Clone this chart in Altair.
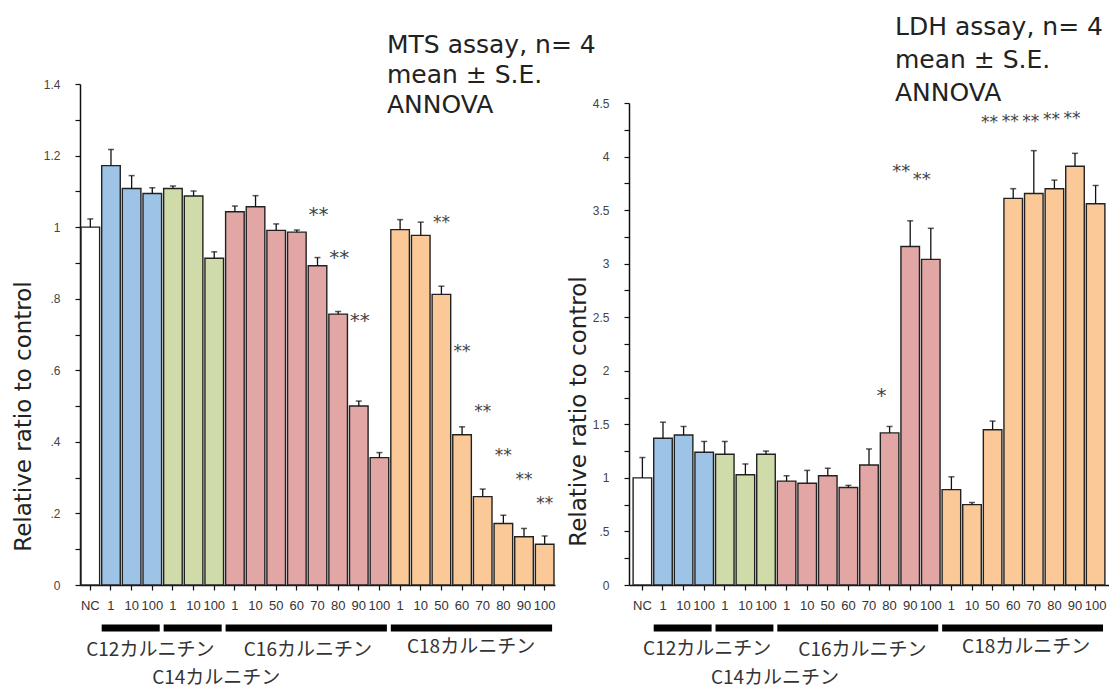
import altair as alt
import pandas as pd

# ---------------- data ----------------
categories = ["NC", "C12-1", "C12-10", "C12-100", "C14-1", "C14-10", "C14-100",
              "C16-1", "C16-10", "C16-50", "C16-60", "C16-70", "C16-80", "C16-90", "C16-100",
              "C18-1", "C18-10", "C18-50", "C18-60", "C18-70", "C18-80", "C18-90", "C18-100"]
groups = ["NC"] + ["C12"] * 3 + ["C14"] * 3 + ["C16"] * 8 + ["C18"] * 8
tick_labels = ["NC", "1", "10", "100", "1", "10", "100",
               "1", "10", "50", "60", "70", "80", "90", "100",
               "1", "10", "50", "60", "70", "80", "90", "100"]

mts_mean = [1.000, 1.172, 1.108, 1.094, 1.108, 1.087, 0.913,
            1.043, 1.057, 0.991, 0.986, 0.892, 0.757, 0.500, 0.356,
            0.993, 0.977, 0.812, 0.420, 0.247, 0.172, 0.135, 0.114]
mts_se = [0.023, 0.045, 0.036, 0.016, 0.007, 0.014, 0.018,
          0.016, 0.031, 0.018, 0.006, 0.023, 0.007, 0.014, 0.014,
          0.028, 0.037, 0.023, 0.022, 0.021, 0.023, 0.023, 0.023]

ldh_mean = [1.00, 1.37, 1.40, 1.24, 1.22, 1.03, 1.22,
            0.97, 0.95, 1.02, 0.91, 1.12, 1.42, 3.16, 3.04,
            0.89, 0.75, 1.45, 3.61, 3.655, 3.70, 3.91, 3.56]
ldh_se = [0.19, 0.15, 0.08, 0.10, 0.12, 0.10, 0.03,
          0.05, 0.12, 0.07, 0.02, 0.15, 0.06, 0.24, 0.29,
          0.12, 0.02, 0.08, 0.09, 0.40, 0.08, 0.12, 0.17]

group_names = ["NC", "C12", "C14", "C16", "C18"]
mts_colors = ["#ffffff", "#9dc3e6", "#cfdba8", "#e2a7a4", "#fbc898"]
ldh_colors = ["#ffffff", "#5b97d8", "#cfdba8", "#e2a7a4", "#fbc898"]

mts_ticks = [0, 0.1, 0.2, 0.3, 0.4, 0.5, 0.6, 0.7, 0.8, 0.9, 1.0, 1.1, 1.2, 1.3, 1.4]
mts_tick_labels = ["0", "", ".2", "", ".4", "", ".6", "", ".8", "", "1", "", "1.2", "", "1.4"]
ldh_ticks = [0, 0.25, 0.5, 0.75, 1.0, 1.25, 1.5, 1.75, 2.0, 2.25, 2.5, 2.75,
             3.0, 3.25, 3.5, 3.75, 4.0, 4.25, 4.5]
ldh_tick_labels = ["0", "", ".5", "", "1", "", "1.5", "", "2", "", "2.5", "",
                   "3", "", "3.5", "", "4", "", "4.5"]

mts_note = ["MTS assay, n= 4", "mean ± S.E.", "ANNOVA"]
ldh_note = ["LDH assay, n= 4", "mean ± S.E.", "ANNOVA"]
y_title = "Relative ratio to control"

# significance marks (category, height in data units)
mts_sig_a_cat = ["C16-70", "C16-80", "C16-90"]
mts_sig_a_y = [1.045, 0.925, 0.749]
mts_sig_b_cat = ["C18-50", "C18-60", "C18-70", "C18-80", "C18-90", "C18-100"]
mts_sig_b_y = [1.02, 0.659, 0.492, 0.369, 0.302, 0.235]
ldh_sig_a_cat = ["C16-80"]
ldh_sig_a_y = [1.80]
ldh_sig_b_cat = ["C16-90", "C16-100"]
ldh_sig_b_y = [3.88, 3.81]
ldh_sig_c_cat = ["C18-50", "C18-60", "C18-70", "C18-80", "C18-90"]
ldh_sig_c_y = [4.34, 4.35, 4.35, 4.37, 4.38]

span_start = ["C12-1", "C14-1", "C16-1", "C18-1"]
span_end = ["C12-100", "C14-100", "C16-100", "C18-100"]
span_names = ["C12カルニチン", "C14カルニチン", "C16カルニチン", "C18カルニチン"]

# ---------------- styling ----------------
LATIN = "DejaVu Sans"
CJK = "Noto Sans CJK JP"
SMALL = "'Liberation Sans Narrow', 'Liberation Sans', sans-serif"
XLAB = "'Liberation Sans', sans-serif"
H = 505


def label_expr(values, labels):
    expr = "''"
    for v, l in reversed(list(zip(values, labels))):
        expr = f"datum.value == {v} ? '{l}' : ({expr})"
    return expr


def panel(mean, se, colors, ymax, yrange, ticks, tlabels, width, pad_outer,
          title_x, title_y, note, note_x, note_y, note_lh, sigs, label_layout,
          rule_y, anchor=False):
    df = pd.DataFrame({
        "cat": categories, "group": groups, "mean": mean,
        "upper": [m + s for m, s in zip(mean, se)],
    })
    cat_arr = "[" + ",".join(f"'{c}'" for c in categories) + "]"
    lab_arr = "[" + ",".join(f"'{t}'" for t in tick_labels) + "]"
    x_scale = alt.Scale(domain=categories, paddingInner=0.1, paddingOuter=pad_outer)
    x_axis = alt.Axis(title=None, labelExpr=f"{lab_arr}[indexof({cat_arr}, datum.value)]",
                      labelAngle=0, labelFont=XLAB, labelFontSize=13, labelColor="#333",
                      labelPadding=9, labelOverlap=False, tickSize=5, tickColor="#111",
                      tickWidth=1.2, domainColor="#111", domainWidth=1.5)
    y_scale = alt.Scale(domain=[0, ymax], range=yrange, nice=False, zero=True)
    y_axis = alt.Axis(values=ticks, labelExpr=label_expr(ticks, tlabels), grid=False,
                      labelFont=SMALL, labelFontSize=12, labelColor="#444",
                      labelPadding=15, tickSize=5, tickColor="#111", tickWidth=1.2,
                      domainColor="#111", domainWidth=1.5,
                      title=y_title, titleFont=LATIN, titleFontSize=23,
                      titleFontWeight="normal", titleColor="#222", titleAngle=270,
                      titleX=title_x, titleY=title_y, titleAlign="center",
                      titleBaseline="middle")

    def X(field="cat", **kw):
        return alt.X(f"{field}:N", sort=categories, scale=x_scale, axis=x_axis, **kw)

    def Y(field):
        return alt.Y(f"{field}:Q", scale=y_scale, axis=y_axis)

    layers = []
    layers.append(alt.Chart(df).mark_bar(stroke="#222", strokeWidth=1.4).encode(
        x=X(), y=Y("mean"),
        color=alt.Color("group:N", scale=alt.Scale(domain=group_names, range=colors),
                        legend=None)))
    layers.append(alt.Chart(df).mark_rule(color="#111", strokeWidth=1.3).encode(
        x=X(), y=Y("mean"), y2="upper:Q"))
    layers.append(alt.Chart(df).mark_tick(color="#111", thickness=1.5, size=6).encode(
        x=X(), y=Y("upper")))

    for cats_, ys_, txt, fs, dx, dy in sigs:
        sdf = pd.DataFrame({"cat": cats_, "v": ys_})
        layers.append(alt.Chart(sdf).mark_text(
            text=txt, font=LATIN, fontSize=fs, color="#444", dx=dx, dy=dy,
            baseline="middle").encode(x=X(), y=Y("v")))

    sp = pd.DataFrame({"start": span_start, "end": span_end})
    layers.append(alt.Chart(sp).mark_rule(color="#000", strokeWidth=7, strokeCap="butt").encode(
        x=X("start", bandPosition=0), x2=alt.X2("end", bandPosition=0.9),
        y=alt.value(rule_y)))

    for name, (acat, dx, ypx) in zip(span_names, label_layout):
        ldf = pd.DataFrame({"cat": [acat], "t": [name]})
        layers.append(alt.Chart(ldf).mark_text(
            font=CJK, fontSize=19, color="#333", dx=dx, baseline="middle").encode(
            x=X(), y=alt.value(ypx), text="t:N"))

    layers.append(alt.Chart(pd.DataFrame({"k": [0]})).mark_text(
        text=note, align="left", baseline="alphabetic", font=LATIN, fontSize=25,
        lineHeight=note_lh, color="#222").encode(x=alt.value(note_x), y=alt.value(note_y)))

    if anchor:
        layers.append(alt.Chart(pd.DataFrame({"k": [0]})).mark_rule(
            strokeWidth=0.5, opacity=0).encode(
            x=alt.value(-80), y=alt.value(-80), y2=alt.value(-79)))

    return alt.layer(*layers).properties(width=width, height=H)


left = panel(
    mts_mean, mts_se, mts_colors, 1.4, [H, 4], mts_ticks, mts_tick_labels, 475, 0.05,
    -57, 336, mts_note, 307, -27, 30,
    [(mts_sig_a_cat, mts_sig_a_y, "**", 20, 1, 4),
     (mts_sig_b_cat, mts_sig_b_y, "**", 17, 0, 3)],
    [("C12-100", -2, 570), ("C14-100", 2, 598), ("C16-60", 11, 570), ("C18-60", 9, 567)],
    548, anchor=True)

right = panel(
    ldh_mean, ldh_se, ldh_colors, 4.5, [H, 23], ldh_ticks, ldh_tick_labels, 480, 0.2,
    -51, 331, ldh_note, 266, -45, 33,
    [(ldh_sig_a_cat, ldh_sig_a_y, "*", 20, -8, 4),
     (ldh_sig_b_cat, ldh_sig_b_y, "**", 18, -9, 3),
     (ldh_sig_c_cat, ldh_sig_c_y, "**", 17, -3, 3)],
    [("C12-100", 3, 569), ("C14-100", 9, 598), ("C16-60", 14, 570), ("C18-60", 13, 567)],
    548)

chart = alt.hconcat(left, right, spacing=74, bounds="flush", padding=0).configure_view(
    stroke=None)

chart.save("out.html", embed_options={"renderer": "svg", "actions": False})
